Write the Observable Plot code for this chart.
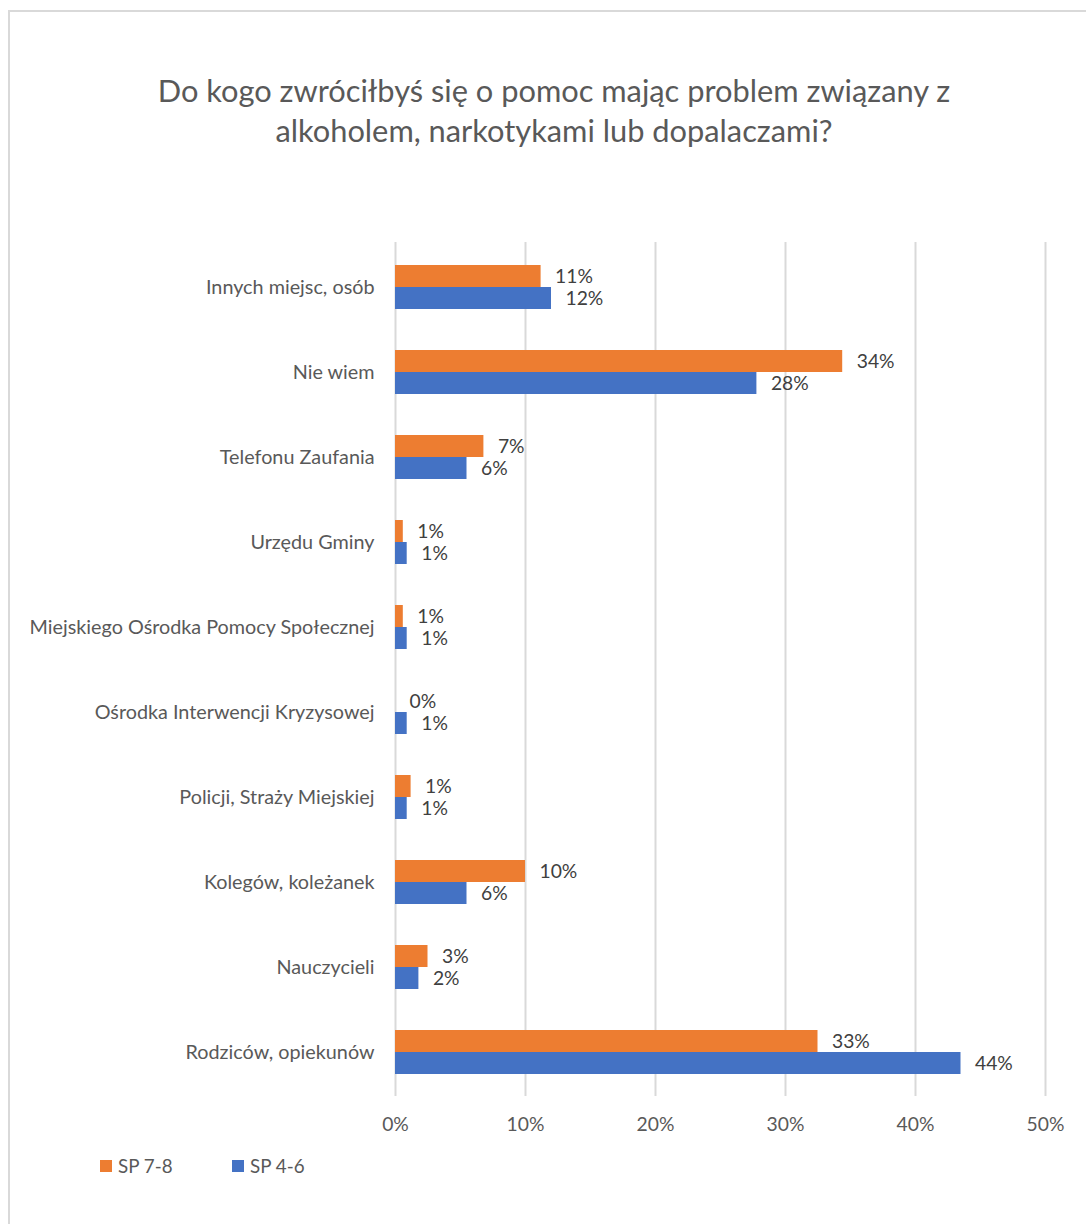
<!DOCTYPE html>
<html><head><meta charset="utf-8">
<script src="https://cdn.jsdelivr.net/npm/d3@7"></script>
<script src="https://cdn.jsdelivr.net/npm/@observablehq/plot@0.6"></script>
<style>
body{margin:0;background:#fff;font-family:Lato,"Open Sans",sans-serif;}
#frame{position:absolute;left:8px;top:10px;width:1300px;height:1400px;border-left:2px solid #d9d9d9;border-top:2px solid #d9d9d9;box-sizing:border-box;}
#wrap{position:relative;width:1086px;height:1224px;overflow:hidden;}
#title{position:absolute;left:0;width:1108px;top:71px;text-align:center;font-size:30.8px;line-height:40px;color:#595959;}
#chart{position:absolute;left:0;top:222px;}
#legend{position:absolute;top:1154px;left:100px;display:flex;font-size:18.8px;color:#595959;}
.item{display:flex;align-items:center;margin-right:0;}
.sw{width:12px;height:12px;margin-right:6px;}
</style></head>
<body>
<div id="wrap">
<div id="frame"></div>
<div id="title">Do kogo zwróciłbyś się o pomoc mając problem związany z<br>alkoholem, narkotykami lub dopalaczami?</div>
<div id="chart"></div>
<div id="legend"></div>
</div>
<script>
const categories = ["Innych miejsc, osób","Nie wiem","Telefonu Zaufania","Urzędu Gminy","Miejskiego Ośrodka Pomocy Społecznej","Ośrodka Interwencji Kryzysowej","Policji, Straży Miejskiej","Kolegów, koleżanek","Nauczycieli","Rodziców, opiekunów"];
const seriesNames = ["SP 7-8","SP 4-6"];
const seriesColors = ["#ED7D31","#4472C4"];
const sp78 = [11.2, 34.4, 6.8, 0.6, 0.6, 0, 1.2, 10.0, 2.5, 32.5];
const sp46 = [12.0, 27.8, 5.5, 0.9, 0.9, 0.9, 0.9, 5.5, 1.8, 43.5];
const xTicks = [0,10,20,30,40,50];

const d78 = categories.map((c,i)=>({cat:c, value:sp78[i]}));
const d46 = categories.map((c,i)=>({cat:c, value:sp46[i]}));
const fmt = d => Math.round(d.value) + "%";
const font = 'Lato, "Open Sans", sans-serif';

const chart = Plot.plot({
  width:1086, height:924,
  marginLeft:395, marginRight:41, marginTop:20, marginBottom:50,
  style:{fontFamily:font, fontSize:"19.5px", color:"#595959", background:"transparent"},
  x:{domain:[0,50]},
  y:{domain:categories, paddingInner:0.484, paddingOuter:0.242},
  marks:[
    Plot.ruleX(xTicks, {stroke:"#d9d9d9", strokeWidth:2}),
    Plot.barX(d78, {x:"value", y:"cat", fill:seriesColors[0], insetBottom:22}),
    Plot.barX(d46, {x:"value", y:"cat", fill:seriesColors[1], insetTop:22}),
    Plot.text(d78, {x:"value", y:"cat", text:fmt, dx:14, dy:-11, textAnchor:"start", fill:"#404040", fontSize:19.3}),
    Plot.text(d46, {x:"value", y:"cat", text:fmt, dx:14, dy:11, textAnchor:"start", fill:"#404040", fontSize:19.3}),
    Plot.axisY({tickSize:0, tickPadding:21, label:null, fontSize:19.8}),
    Plot.axisX({ticks:xTicks, tickSize:0, tickPadding:21, tickFormat:d=>d+"%", label:null, fontSize:19.3})
  ]
});
document.getElementById("chart").appendChild(chart);

const lg = document.getElementById("legend");
seriesNames.forEach((n,i)=>{
  const it = document.createElement("div"); it.className="item";
  it.style.width = i===0 ? "132px" : "auto";
  const sw = document.createElement("div"); sw.className="sw"; sw.style.background=seriesColors[i];
  const t = document.createElement("span"); t.textContent=n;
  it.appendChild(sw); it.appendChild(t); lg.appendChild(it);
});
</script>
</body></html>
